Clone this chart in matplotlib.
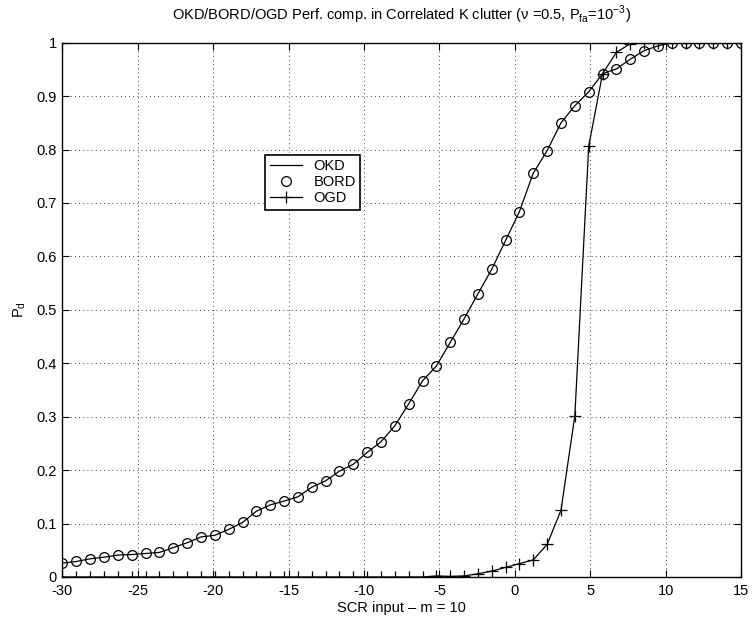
import numpy as np
import matplotlib
matplotlib.use('Agg')
import matplotlib.pyplot as plt

plt.rcParams['font.family'] = ['Liberation Sans', 'DejaVu Sans']
plt.rcParams['font.size'] = 10.5
plt.rcParams['axes.unicode_minus'] = False

# SCR grid, 50 points from -30 to 15
scr = np.linspace(-30, 15, 50)

bord = [0.026, 0.029, 0.034, 0.037, 0.041, 0.042, 0.044, 0.046, 0.055, 0.064,
        0.075, 0.078, 0.089, 0.102, 0.123, 0.135, 0.142, 0.150, 0.168, 0.180,
        0.198, 0.211, 0.233, 0.253, 0.283, 0.324, 0.367, 0.395, 0.439, 0.483,
        0.530, 0.576, 0.630, 0.684, 0.756, 0.798, 0.850, 0.882, 0.908, 0.942,
        0.951, 0.969, 0.985, 0.994, 1.0, 1.0, 1.0, 1.0, 1.0, 1.0]

okd = list(bord)

ogd = [0.0] * 25 + [0.0, 0.0, 0.002, 0.001, 0.002, 0.006, 0.011, 0.018, 0.025, 0.032,
                    0.061, 0.125, 0.302, 0.806, 0.942, 0.982, 0.998, 1.0, 1.0, 1.0,
                    1.0, 1.0, 1.0, 1.0, 1.0]
ogd = ogd[:50]

fig = plt.figure(figsize=(7.52, 6.26), dpi=100)
ax = fig.add_axes([0.0831, 0.0783, 0.9023, 0.8535])

ax.plot(scr, okd, '-', color='k', lw=0.9, label='OKD')
ax.plot(scr, bord, 'o', color='k', mfc='none', ms=7, mew=0.9, label='BORD')
ax.plot(scr, ogd, '-+', color='k', lw=0.9, ms=8, mew=0.9, label='OGD')

ax.set_xlim(-30, 15)
ax.set_ylim(0, 1)
ax.set_xticks(np.arange(-30, 16, 5))
ax.set_yticks(np.arange(0, 1.01, 0.1))
ax.set_yticklabels(['0', '0.1', '0.2', '0.3', '0.4', '0.5', '0.6', '0.7', '0.8', '0.9', '1'])
ax.tick_params(direction='in', top=True, right=True, length=5, width=0.8, colors='k', pad=4)
ax.tick_params(axis='x', pad=5)
ax.grid(True, color='k', linestyle=(0, (1, 4)), linewidth=0.6)
for s in ax.spines.values():
    s.set_linewidth(1.0)

ax.set_title('OKD/BORD/OGD Perf. comp. in Correlated K clutter (\u03bd =0.5, P$_\\mathregular{fa}$=10$^\\mathregular{-3}$)',
             fontsize=10.5, pad=16)
ax.set_xlabel('SCR input \u2013 m = 10', labelpad=2)
ax.set_ylabel('P$_\\mathregular{d}$', labelpad=6)

leg = ax.legend(loc='upper left', bbox_to_anchor=(0.288, 0.804), fancybox=False,
                edgecolor='k', framealpha=1, borderpad=0.3, labelspacing=0.15,
                handlelength=2.2, fontsize=10.5)
leg.get_frame().set_linewidth(1.2)

fig.savefig('out.png', dpi=100)
